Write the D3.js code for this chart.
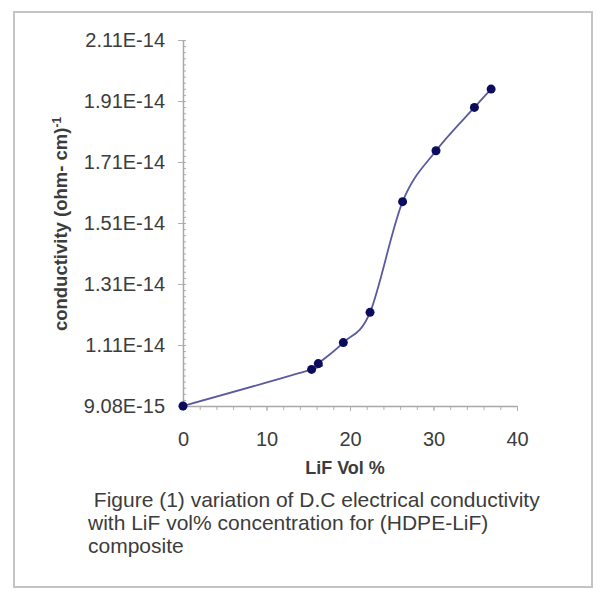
<!DOCTYPE html>
<html>
<head>
<meta charset="utf-8">
<script src="https://cdn.jsdelivr.net/npm/d3@7"></script>
<style>
  body { margin: 0; background: #fff; }
  svg { display: block; font-family: "Liberation Sans", Arial, sans-serif; }
</style>
</head>
<body>
<script>
// LiF volume % and measured D.C conductivity (ohm-cm)^-1
const lifVol = [0, 15.4, 16.2, 19.2, 22.4, 26.3, 30.3, 34.9, 36.9];
const conductivity = [9.08e-15, 1.028e-14, 1.047e-14, 1.116e-14, 1.215e-14, 1.578e-14, 1.745e-14, 1.887e-14, 1.947e-14];

const xTicks = [0, 10, 20, 30, 40];
const yTicks = [9.08e-15, 1.108e-14, 1.308e-14, 1.508e-14, 1.708e-14, 1.908e-14, 2.108e-14];

const captionLines = [
    " Figure (1) variation of D.C electrical conductivity",
    "with LiF vol% concentration for (HDPE-LiF)",
    "composite"
];

const width = 597, height = 590;
const plot = { left: 183, right: 517, top: 40, bottom: 406 };

let svg = d3.select("body")
    .append("svg")
        .attr("width", width)
        .attr("height", height);

// outer frame
svg.append("rect")
    .attr("x", 14)
    .attr("y", 12)
    .attr("width", 578)
    .attr("height", 575)
    .attr("fill", "none")
    .attr("stroke", "#c4c4c4")
    .attr("stroke-width", 2);

let xScale = d3.scaleLinear()
    .domain([0, 40])
    .range([plot.left, plot.right]);

let yScale = d3.scaleLinear()
    .domain([yTicks[0], yTicks[yTicks.length - 1]])
    .range([plot.bottom, plot.top]);

// minor ticks first so the major ones sit on top
let xMinor = d3.axisBottom(xScale)
    .tickValues(d3.range(0, 41, 2))
    .tickSize(4)
    .tickFormat("");

svg.append("g")
    .attr("class", "xMinor")
    .attr("transform", `translate(0, ${plot.bottom})`)
    .call(xMinor);

let yMinor = d3.axisLeft(yScale)
    .tickValues(d3.range(0, 61).map(i => yTicks[0] + i * 2e-16))
    .tickSize(-3)
    .tickFormat("");

svg.append("g")
    .attr("class", "yMinor")
    .attr("transform", `translate(${plot.left}, 0)`)
    .call(yMinor);

let xAxis = d3.axisBottom(xScale)
    .tickValues(xTicks)
    .tickSize(5)
    .tickSizeOuter(0)
    .tickPadding(21);

svg.append("g")
    .attr("class", "xAxis")
    .attr("transform", `translate(0, ${plot.bottom})`)
    .call(xAxis);

let yAxis = d3.axisLeft(yScale)
    .tickValues(yTicks)
    .tickSize(5)
    .tickSizeOuter(0)
    .tickPadding(13)
    .tickFormat(d => d.toExponential(2).toUpperCase());

svg.append("g")
    .attr("class", "yAxis")
    .attr("transform", `translate(${plot.left}, 0)`)
    .call(yAxis);

svg.selectAll(".xMinor path, .yMinor path").remove();
svg.selectAll(".xAxis path, .yAxis path")
    .attr("stroke", "#a8a8a8")
    .attr("stroke-width", 1.5);
svg.selectAll(".xAxis line, .yAxis line, .xMinor line, .yMinor line")
    .attr("stroke", "#b0b0b0");
svg.selectAll(".xAxis text, .yAxis text")
    .attr("fill", "#3c3c3c")
    .style("font-size", "20px");

// smoothed line, Excel style
let points = lifVol.map((v, i) => [v, conductivity[i]]);

let line = d3.line()
    .x(d => xScale(d[0]))
    .y(d => yScale(d[1]))
    .curve(d3.curveCardinal.tension(0));

svg.append("path")
    .datum(points)
    .attr("d", line)
    .attr("fill", "none")
    .attr("stroke", "#5a5aa0")
    .attr("stroke-width", 1.8);

svg.selectAll("circle.pt")
    .data(points)
    .enter()
        .append("circle")
            .attr("class", "pt")
            .attr("cx", d => xScale(d[0]))
            .attr("cy", d => yScale(d[1]))
            .attr("r", 4.5)
            .attr("fill", "#0c0c5c");

// axis titles
let yTitle = svg.append("text")
    .attr("transform", `translate(67, 224) rotate(-90)`)
    .attr("text-anchor", "middle")
    .attr("fill", "#3c3c3c")
    .style("font-size", "18.5px")
    .style("font-weight", "bold");
yTitle.append("tspan").text("conductivity (ohm- cm)");
yTitle.append("tspan")
    .attr("dy", "-0.5em")
    .style("font-size", "12px")
    .text("-1");

svg.append("text")
    .attr("x", 345)
    .attr("y", 474)
    .attr("text-anchor", "middle")
    .attr("fill", "#3c3c3c")
    .style("font-size", "18px")
    .style("font-weight", "bold")
    .text("LiF Vol %");

svg.selectAll("text.caption")
    .data(captionLines)
    .enter()
        .append("text")
            .attr("class", "caption")
            .attr("x", 88)
            .attr("y", (d, i) => 507 + i * 23)
            .attr("fill", "#3c3c3c")
            .style("font-size", "21px")
            .style("white-space", "pre")
            .text(d => d);
</script>
</body>
</html>
